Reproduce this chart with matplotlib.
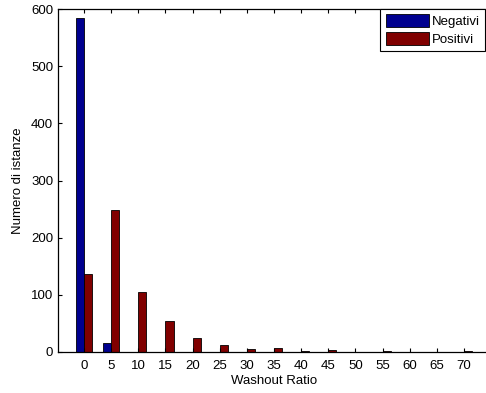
import numpy as np
import matplotlib
matplotlib.use('Agg')
import matplotlib.pyplot as plt

plt.rcParams['font.family'] = ['Liberation Sans', 'DejaVu Sans']

# data
ratio_labels = ['0', '5', '10', '15', '20', '25', '30', '35', '40', '45',
                '50', '55', '60', '65', '70']
negativi = [584, 16, 0, 0, 0, 0, 0, 0, 0, 0, 0, 0, 0, 0, 0]
positivi = [137, 249, 105, 55, 25, 13, 6, 7, 2, 3, 0, 1, 0, 0, 1]

fig = plt.figure(figsize=(4.86, 3.93), dpi=100)
ax = fig.add_axes([58/486, 41/393, 432/486, 343/393])

x = np.arange(len(ratio_labels))
w = 0.3
ax.bar(x - w/2, negativi, w, color=(0, 0, 0.5625), edgecolor='black',
       linewidth=0.6, label='Negativi')
ax.bar(x + w/2, positivi, w, color=(0.5, 0, 0), edgecolor='black',
       linewidth=0.6, label='Positivi')

ax.set_xlim(-0.96, 14.96)
ax.set_ylim(0, 600)
ax.set_xticks(x)
ax.set_xticklabels(ratio_labels)
ax.set_yticks(range(0, 601, 100))
ax.tick_params(direction='in', top=True, right=True, labelsize=9.5,
               length=3, width=0.8)
ax.tick_params(axis='x', pad=6)
for s in ax.spines.values():
    s.set_linewidth(0.9)

ax.set_xlabel('Washout Ratio', fontsize=9.5, labelpad=2)
ax.set_ylabel('Numero di istanze', fontsize=9.5, labelpad=5)

leg = ax.legend(loc='upper right', bbox_to_anchor=(485/486, 384/393),
                bbox_transform=fig.transFigure, fontsize=9.5, fancybox=False,
                framealpha=1, edgecolor='black', handlelength=3.3,
                handleheight=1.1, handletextpad=0.2, borderpad=0.4,
                labelspacing=0.3, borderaxespad=0)
leg.get_frame().set_linewidth(0.8)

fig.savefig('out.png', dpi=100)
